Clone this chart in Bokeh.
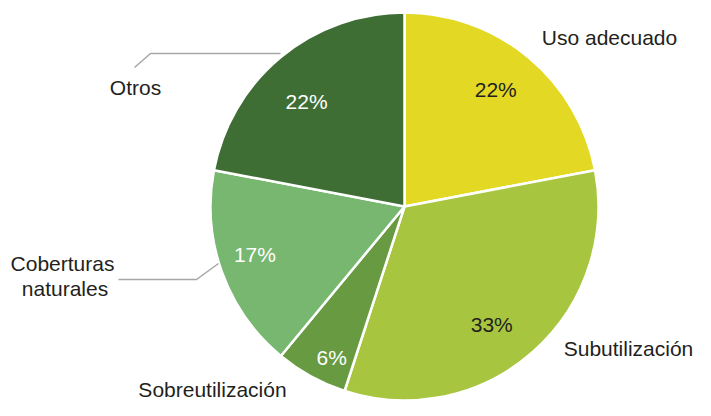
import math
from bokeh.plotting import figure
from bokeh.models import Range1d, ColumnDataSource
from bokeh.core.properties import value
from bokeh.embed import file_html
from bokeh.resources import INLINE

# ---- data ----
categories = ["Uso adecuado", "Subutilización", "Sobreutilización", "Coberturas naturales", "Otros"]
values = [22, 33, 6, 17, 22]
colors = ["#E3D924", "#A8C540", "#679A41", "#77B770", "#3F6E35"]
pct_colors = ["#231F20", "#231F20", "#FFFFFF", "#FFFFFF", "#FFFFFF"]

# ---- layout (pixels, offsets y-up from pie centre) ----
W, H = 695, 400
CX, CY, R = 404, H - 206, 194
FONT = "Liberation Sans"
FS = "21px"
pct_nudge = [(-1.5, 5.3), (-9, -8.8), (-2.7, -23.4), (-12.7, 1.7), (-5.2, -7.6)]
cat_offsets = [(205, 169), (224, -142), (-192, -183), (-342, -57), (-269, 119)]
second_line_offset = (2.5, -25)
leader_lines = [
    None, None, None,
    [(-286, -73), (-208, -73), (-186, -57)],
    [(-270, 139), (-254, 153), (-124, 153)],
]

total = float(sum(values))
starts, ends, mids = [], [], []
cum = 0.0
for v in values:
    a0 = math.pi / 2 - 2 * math.pi * cum / total
    cum += v
    a1 = math.pi / 2 - 2 * math.pi * cum / total
    starts.append(a0)
    ends.append(a1)
    mids.append((a0 + a1) / 2)

p = figure(width=W, height=H, output_backend="svg", toolbar_location=None,
           x_range=Range1d(0, W), y_range=Range1d(0, H), min_border=0)
p.axis.visible = False
p.grid.visible = False
p.outline_line_color = None
p.background_fill_color = "white"

src = ColumnDataSource(dict(start=starts, end=ends, color=colors))
p.wedge(x=CX, y=CY, radius=R, start_angle="start", end_angle="end",
        direction="clock", fill_color="color", line_color="white", line_width=2.5,
        source=src)

# percent labels
px, py, pt = [], [], []
for m, v, (nx, ny) in zip(mids, values, pct_nudge):
    px.append(CX + 0.75 * R * math.cos(m) + nx)
    py.append(CY + 0.75 * R * math.sin(m) + ny)
    pt.append(f"{v}%")
p.text(x=px, y=py, text=pt, text_color=pct_colors, text_font=value(FONT),
       text_font_size=FS, text_align="center", text_baseline="middle")

# category labels
cx_, cy_, ct = [], [], []
for name, (ox, oy) in zip(categories, cat_offsets):
    if name == "Coberturas naturales":
        words = name.split(" ")
        cx_ += [CX + ox, CX + ox + second_line_offset[0]]
        cy_ += [CY + oy, CY + oy + second_line_offset[1]]
        ct += words
    else:
        cx_.append(CX + ox)
        cy_.append(CY + oy)
        ct.append(name)
p.text(x=cx_, y=cy_, text=ct, text_color="#231F20", text_font=value(FONT),
       text_font_size=FS, text_align="center", text_baseline="middle")

# leader lines
for ll in leader_lines:
    if ll:
        p.line([CX + a for a, b in ll], [CY + b for a, b in ll],
               line_color="#A6A6A6", line_width=1.5)

open("out.html", "w").write(file_html(p, INLINE))
